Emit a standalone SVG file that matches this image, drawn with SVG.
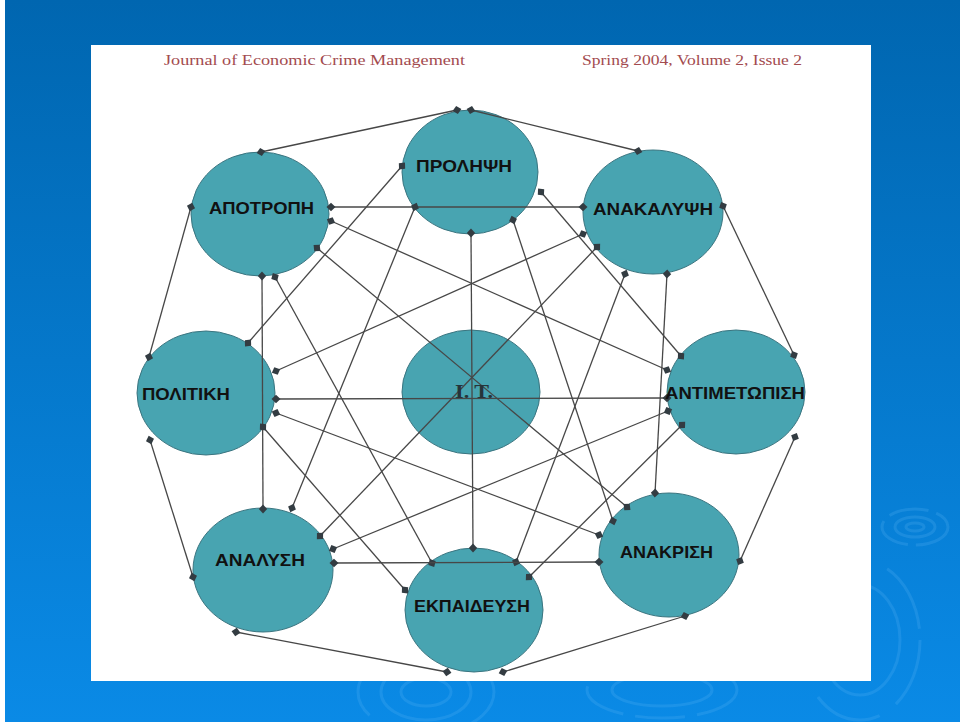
<svg xmlns="http://www.w3.org/2000/svg" width="960" height="722" viewBox="0 0 960 722">
<defs>
<linearGradient id="bg" x1="0" y1="0" x2="0" y2="1">
<stop offset="0" stop-color="#0066b0"/>
<stop offset="1" stop-color="#0a8ae6"/>
</linearGradient>
<marker id="dm" viewBox="0 0 10 10" refX="5" refY="5" markerWidth="10" markerHeight="10" markerUnits="userSpaceOnUse" orient="auto">
<path d="M0.5,5 L5,0.8 L9.5,5 L5,9.2 Z" fill="#333c42"/>
</marker>
<style>
.node{fill:#48a4b1;stroke:#3b7580;stroke-width:1}
.lbl{font-family:"Liberation Sans",Arial,sans-serif;font-weight:bold;font-size:16.5px;fill:#111}
.hdr{font-family:"Liberation Serif","Times New Roman",serif;font-size:15px;fill:#a34b4f}
.cn line{stroke:#474747;stroke-width:1.3;marker-start:url(#dm);marker-end:url(#dm)}
.rip{fill:none;stroke:#5fb4f5;stroke-opacity:0.22;stroke-width:3}
</style>
</defs>
<rect x="0" y="0" width="960" height="722" fill="url(#bg)"/>
<rect x="0" y="0" width="5" height="722" fill="#ffffff"/>
<g id="decor">
<ellipse class="rip" cx="915" cy="527" rx="9" ry="4"/>
<ellipse class="rip" cx="915" cy="527" rx="20" ry="10"/>
<ellipse class="rip" cx="915" cy="527" rx="33" ry="18" stroke-dasharray="40 8"/>
<ellipse class="rip" cx="860" cy="640" rx="40" ry="55"/>
<ellipse class="rip" cx="860" cy="640" rx="60" ry="80" stroke-dasharray="70 20"/>
<ellipse class="rip" cx="426" cy="692" rx="25" ry="14"/>
<ellipse class="rip" cx="426" cy="692" rx="45" ry="28"/>
<ellipse class="rip" cx="426" cy="692" rx="68" ry="42" stroke-dasharray="60 14"/>
<ellipse class="rip" cx="662" cy="690" rx="50" ry="16"/>
<ellipse class="rip" cx="662" cy="690" rx="75" ry="28" stroke-dasharray="50 12"/>
</g>
<rect x="91" y="45" width="780" height="636" fill="#ffffff"/>
<g id="header">
<text class="hdr" x="164" y="65" textLength="301" lengthAdjust="spacingAndGlyphs">Journal of Economic Crime Management</text>
<text class="hdr" x="582" y="65" textLength="220" lengthAdjust="spacingAndGlyphs">Spring 2004, Volume 2, Issue 2</text>
</g>
<g id="n-prolipsi"><ellipse class="node" cx="470" cy="172" rx="68" ry="62"/></g>
<g id="n-apotropi"><ellipse class="node" cx="260" cy="214" rx="69" ry="62"/></g>
<g id="n-anakalypsi"><ellipse class="node" cx="653" cy="212" rx="70" ry="62"/></g>
<g id="n-politiki"><ellipse class="node" cx="206" cy="393" rx="69" ry="62"/></g>
<g id="n-it"><ellipse class="node" cx="471" cy="392" rx="69" ry="62"/></g>
<g id="n-antimetopisi"><ellipse class="node" cx="736" cy="392" rx="69" ry="62"/></g>
<g id="n-analysi"><ellipse class="node" cx="263" cy="570" rx="70" ry="62"/></g>
<g id="n-ekpaidefsi"><ellipse class="node" cx="474" cy="610" rx="69" ry="62"/></g>
<g id="n-anakrisi"><ellipse class="node" cx="669" cy="555" rx="70" ry="62"/></g>
<g id="connectors" class="cn">
<line x1="261" y1="152" x2="457" y2="110"/>
<line x1="471" y1="110" x2="638" y2="151"/>
<line x1="723" y1="206" x2="794" y2="355"/>
<line x1="795" y1="437" x2="740" y2="561"/>
<line x1="685" y1="616" x2="503" y2="672"/>
<line x1="447" y1="672" x2="236" y2="632"/>
<line x1="193" y1="577" x2="150" y2="440"/>
<line x1="149" y1="357" x2="191" y2="207"/>
<line x1="331" y1="207" x2="583" y2="207"/>
<line x1="331" y1="221" x2="667" y2="370"/>
<line x1="317" y1="248" x2="627" y2="507"/>
<line x1="262" y1="276" x2="263" y2="509"/>
<line x1="275" y1="277" x2="432" y2="563"/>
<line x1="415" y1="207" x2="292" y2="508"/>
<line x1="402" y1="166" x2="248" y2="343"/>
<line x1="541" y1="192" x2="681" y2="356"/>
<line x1="513" y1="220" x2="613" y2="521"/>
<line x1="471" y1="233" x2="473" y2="548"/>
<line x1="583" y1="234" x2="276" y2="371"/>
<line x1="597" y1="247" x2="320" y2="536"/>
<line x1="625" y1="274" x2="516" y2="562"/>
<line x1="667" y1="274" x2="655" y2="493"/>
<line x1="667" y1="398" x2="276" y2="399"/>
<line x1="668" y1="411" x2="333" y2="549"/>
<line x1="682" y1="425" x2="529" y2="577"/>
<line x1="599" y1="535" x2="276" y2="413"/>
<line x1="599" y1="562" x2="334" y2="563"/>
<line x1="263" y1="427" x2="405" y2="590"/>
</g>
<g id="labels">
<text class="lbl" x="416" y="172" textLength="96" lengthAdjust="spacingAndGlyphs">ΠΡΟΛΗΨΗ</text>
<text class="lbl" x="209" y="214" textLength="105" lengthAdjust="spacingAndGlyphs">ΑΠΟΤΡΟΠΗ</text>
<text class="lbl" x="593" y="215" textLength="120" lengthAdjust="spacingAndGlyphs">ΑΝΑΚΑΛΥΨΗ</text>
<text class="lbl" x="142" y="400" textLength="88" lengthAdjust="spacingAndGlyphs">ΠΟΛΙΤΙΚΗ</text>
<text x="455" y="398" textLength="38" lengthAdjust="spacingAndGlyphs" font-family="Liberation Serif, Times New Roman, serif" font-weight="bold" font-size="18" fill="#26343a">I. T.</text>
<text class="lbl" x="665" y="399" textLength="140" lengthAdjust="spacingAndGlyphs">ΑΝΤΙΜΕΤΩΠΙΣΗ</text>
<text class="lbl" x="215" y="566" textLength="90" lengthAdjust="spacingAndGlyphs">ΑΝΑΛΥΣΗ</text>
<text class="lbl" x="414" y="612" textLength="116" lengthAdjust="spacingAndGlyphs">ΕΚΠΑΙΔΕΥΣΗ</text>
<text class="lbl" x="620" y="558" textLength="93" lengthAdjust="spacingAndGlyphs">ΑΝΑΚΡΙΣΗ</text>
</g>
</svg>
